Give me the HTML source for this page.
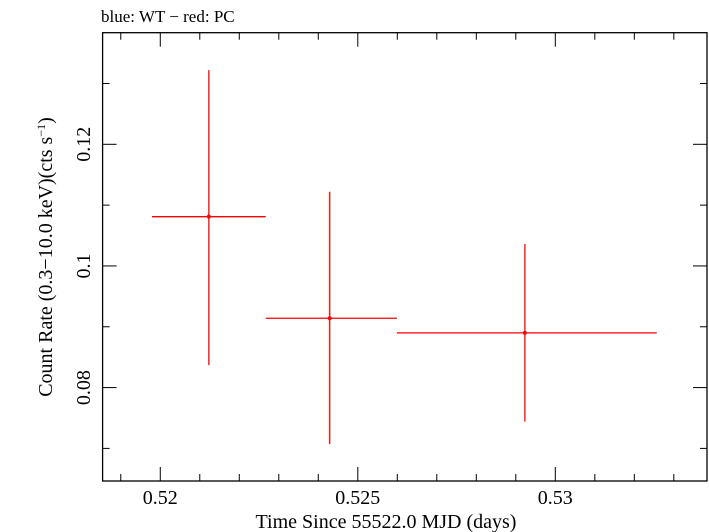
<!DOCTYPE html>
<html><head><meta charset="utf-8"><style>
body{margin:0;background:#fff;}
svg{display:block;font-family:"Liberation Serif",serif;}
</style></head><body>
<svg id="chart" width="709" height="532">
<text x="101" y="22" font-size="17">blue: WT − red: PC</text>
<rect x="102.6" y="32.7" width="604.4" height="448.3" fill="none" stroke="#000" stroke-width="1.3"/>
<g id="axes"></g>
<g id="marks"></g>
<text x="386" y="528" font-size="20" text-anchor="middle">Time Since 55522.0 MJD (days)</text>
<text transform="translate(52,257) rotate(-90)" font-size="20" text-anchor="middle">Count Rate (0.3−10.0 keV)(cts s<tspan font-size="12" dy="-7">−1</tspan><tspan dy="7">)</tspan></text>
</svg>
<script>
const xTicks=[0.52,0.525,0.53];
const xTickLabels=["0.52","0.525","0.53"];
const yTicks=[0.08,0.1,0.12];
const yTickLabels=["0.08","0.1","0.12"];
const times=[0.52123,0.52429,0.52923];
const timeLo=[0.51979,0.52267,0.52599];
const timeHi=[0.52267,0.52599,0.53257];
const rates=[0.1081,0.0914,0.0890];
const rateLo=[0.0837,0.0707,0.0744];
const rateHi=[0.1322,0.1122,0.1036];

const L=102.6,R=707,T=32.7,B=481;
const xMin=0.51854,xMax=0.53384,yMin=0.06464,yMax=0.13835;
const X=v=>L+(v-xMin)/(xMax-xMin)*(R-L);
const Y=v=>B-(v-yMin)/(yMax-yMin)*(B-T);
const NS="http://www.w3.org/2000/svg";
function mk(tag,attrs,parent){const e=document.createElementNS(NS,tag);for(const k in attrs)e.setAttribute(k,attrs[k]);parent.appendChild(e);return e;}
const ax=document.getElementById('axes'),mg=document.getElementById('marks');
for(let i=Math.ceil(xMin/0.001);i*0.001<=xMax;i++){
  const v=i*0.001,x=X(v),major=(i%5===0),len=major?14:7;
  const a=mk('line',{x1:x,x2:x,y1:B,y2:B-len,stroke:'#000','stroke-width':1},ax);
  
  
  const b=mk('line',{x1:x,x2:x,y1:T,y2:T+len,stroke:'#000','stroke-width':1},ax);
  
  
}
xTicks.forEach((v,i)=>{
  const t=mk('text',{x:X(v),y:504,'font-size':20,'text-anchor':'middle'},ax);
  t.textContent=xTickLabels[i];
  
  
});
for(let i=Math.ceil(yMin/0.01);i*0.01<=yMax;i++){
  const v=i*0.01,y=Y(v),major=(i%2===0),len=major?14:7;
  const a=mk('line',{x1:L,x2:L+len,y1:y,y2:y,stroke:'#000','stroke-width':1},ax);
  
  
  const b=mk('line',{x1:R,x2:R-len,y1:y,y2:y,stroke:'#000','stroke-width':1},ax);
  
  
}
yTicks.forEach((v,i)=>{
  const t=mk('text',{transform:`translate(90,${Y(v)}) rotate(-90)`,'font-size':20,'text-anchor':'middle'},ax);
  t.textContent=yTickLabels[i];
  
  
});
times.forEach((t,i)=>{
  const g=mk('g',{},mg);
  
  
  mk('line',{x1:X(timeLo[i]),x2:X(timeHi[i]),y1:Y(rates[i]),y2:Y(rates[i]),stroke:'#f00','stroke-width':1.3},g);
  mk('line',{x1:X(t),x2:X(t),y1:Y(rateLo[i]),y2:Y(rateHi[i]),stroke:'#f00','stroke-width':1.3},g);
  mk('circle',{cx:X(t),cy:Y(rates[i]),r:2,fill:'#f00'},g);
});
</script>
</body></html>
